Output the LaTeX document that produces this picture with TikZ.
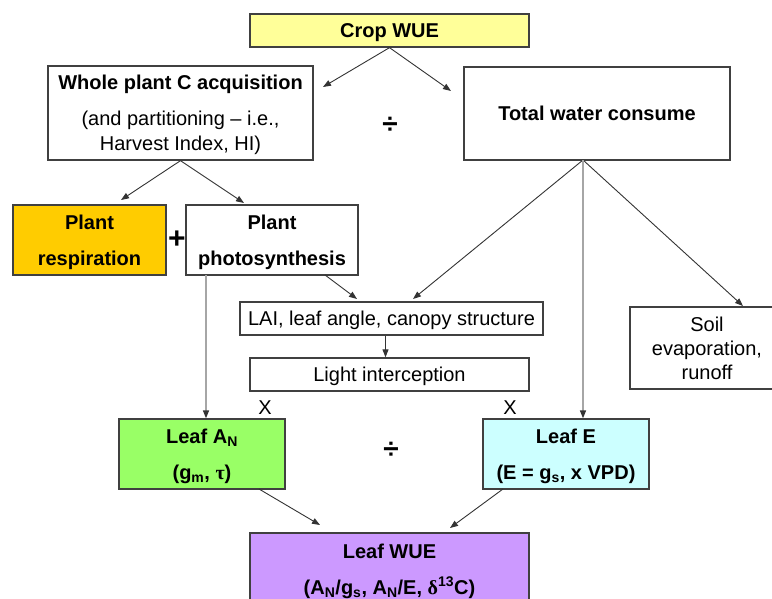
\documentclass[tikz,border=0pt]{standalone}
\usepackage{fontspec}
\setmainfont{Liberation Sans}
\newfontfamily\symbfont{Liberation Serif}
\usetikzlibrary{arrows.meta}
\definecolor{boxline}{HTML}{404040}
\definecolor{arrline}{HTML}{333333}
\definecolor{stemline}{HTML}{A6A6A6}
\definecolor{cropfill}{HTML}{FFFF99}
\definecolor{respfill}{HTML}{FFCC00}
\definecolor{anfill}{HTML}{99FF66}
\definecolor{efill}{HTML}{CCFFFF}
\definecolor{wuefill}{HTML}{CC99FF}
\tikzset{
  box/.style={draw=boxline, line width=1.3pt, inner sep=0pt, align=center, text depth=0pt,
    font=\fontsize{20}{25}\selectfont},
  op/.style={inner sep=0pt, font=\bfseries\fontsize{28}{30}\selectfont},
  arr/.style={-{Triangle[length=8pt,width=6pt]}, draw=arrline, line width=0.9pt},
  stem/.style={-{Triangle[length=8pt,width=6pt,color=arrline]}, draw=stemline, line width=1.5pt},
}
\begin{document}
\begin{tikzpicture}[x=1pt,y=-1pt]
      \clip (0,0) rectangle (772,599);
      \draw
        (389.5,30.5) node[box, fill=cropfill, minimum width=279, minimum height=33] (crop){\textbf{Crop WUE}}
        (180.5,113) node[box, minimum width=265, minimum height=94] (whole){\textbf{Whole plant C acquisition}\\[11pt](and partitioning – i.e.,\\Harvest Index, HI)}
        (597,113.5) node[box, minimum width=266, minimum height=93] (total){\textbf{Total water consume}}
        (89.5,240) node[box, fill=respfill, minimum width=153, minimum height=70] (resp){\textbf{Plant}\\[11pt]\textbf{respiration}}
        (272,240) node[box, minimum width=172, minimum height=70] (photo){\textbf{Plant}\\[11pt]\textbf{photosynthesis}}
        (391.5,318.5) node[box, minimum width=303, minimum height=33] (lai){LAI, leaf angle, canopy structure}
        (389.5,374.5) node[box, minimum width=279, minimum height=33] (light){Light interception}
        (707,348) node[box, minimum width=154, minimum height=82, font=\fontsize{20}{24}\selectfont] (soil){Soil\\evaporation,\\runoff}
        (202,454) node[box, fill=anfill, minimum width=166, minimum height=70] (leafan){\textbf{Leaf A\textsubscript{N}}\\[11pt]\textbf{(g\textsubscript{m}, {\symbfont τ})}}
        (566,454) node[box, fill=efill, minimum width=166, minimum height=70] (leafe){\textbf{Leaf E}\\[11pt]\textbf{(E = g\textsubscript{s}, x VPD)}}
        (389.5,569) node[box, fill=wuefill, minimum width=279, minimum height=72] (leafwue){\textbf{Leaf WUE}\\[11pt]\textbf{(A\textsubscript{N}/g\textsubscript{s}, A\textsubscript{N}/E, {\symbfont δ}\textsuperscript{13}C)}}
        (177,240) node[op, font=\bfseries\fontsize{30}{32}\selectfont] (plus){+}
        (390,125) node[op] (divtop){÷}
        (391,450) node[op] (divleaf){÷}
        (265,408) node[op, font=\fontsize{20}{24}\selectfont] (xleft){X}
        (510,408) node[op, font=\fontsize{20}{24}\selectfont] (xright){X};
      \coordinate (wholetip) at (323,87);
      \coordinate (totaltip) at (451,91);
      \coordinate (resptip) at (121,200);
      \coordinate (phototip) at (244,203);
      \coordinate (photoout) at (325,275);
      \coordinate (laitipa) at (357,299);
      \coordinate (waterout) at (583,160);
      \coordinate (laitipb) at (413,299);
      \coordinate (soiltip) at (743,306);
      \coordinate (photostem) at (206,275);
      \coordinate (anout) at (259,489);
      \coordinate (wuetipa) at (320,525);
      \coordinate (eout) at (503,489);
      \coordinate (wuetipb) at (450,528);
      \begin{scope}[arr]
        \draw (crop.south) to (wholetip);
        \draw (crop.south) to (totaltip);
        \draw (whole.south) to (resptip);
        \draw (whole.south) to (phototip);
        \draw (photoout) to (laitipa);
        \draw (waterout) to (laitipb);
        \draw (waterout) to (soiltip);
        \draw ([xshift=-6]lai.south) to ([xshift=-6]lai.south |- light.north);
        \draw (anout) to (wuetipa);
        \draw (eout) to (wuetipb);
      \end{scope}
      \begin{scope}[stem]
        \draw (photostem) to (photostem |- leafan.north);
        \draw (waterout) to (waterout |- leafe.north);
      \end{scope}
    \end{tikzpicture}
\end{document}
